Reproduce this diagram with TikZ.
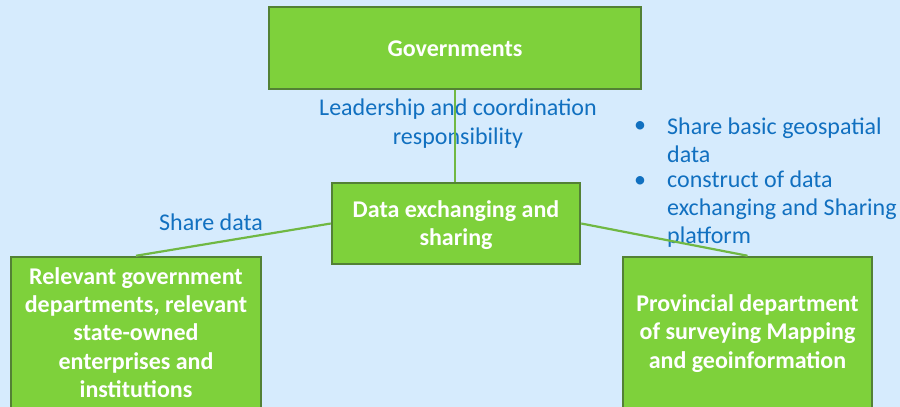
\documentclass[tikz,border=0pt]{standalone}
\usepackage{fontspec}
\setmainfont{Carlito}
\definecolor{bgcol}{HTML}{D6EBFD}
\definecolor{boxfill}{HTML}{7ED13B}
\definecolor{boxborder}{HTML}{538135}
\definecolor{linkcol}{HTML}{70B843}
\definecolor{lblcol}{HTML}{1170C0}
\tikzset{
  greenbox/.style={draw=boxborder, fill=boxfill, line width=2.5pt, inner sep=0pt, rectangle},
  boxtext/.style={text=white, font=\fontsize{24}{28.4}\selectfont\bfseries, align=center, inner sep=0pt},
  lbltext/.style={text=lblcol, font=\fontsize{24}{29}\selectfont, align=center, inner sep=0pt},
  bultext/.style={text=lblcol, font=\fontsize{24}{28}\selectfont, align=left, inner sep=0pt},
  conn/.style={draw=linkcol, line width=2.2pt}
}
\begin{document}
\begin{tikzpicture}[x=1pt,y=-1pt]
\fill[bgcol] (0,0) rectangle (900,407);
\useasboundingbox (0,0) rectangle (900,407);
% boxes
\node[greenbox, minimum width=372pt, minimum height=82pt] (gov) at (455,48) {};
\node[greenbox, minimum width=248pt, minimum height=81pt] (data) at (456,223.5) {};
\node[greenbox, minimum width=250pt, minimum height=172pt] (lb) at (136,343) {};
\node[greenbox, minimum width=249pt, minimum height=172pt] (rb) at (747.5,343) {};
% labels
\node[lbltext] (lead) at (458,124) {Leadership and coordination\\responsibility};
\node[lbltext] (share) at (211,222) {Share data};
\node[bultext, anchor=base] (b1) at (640,132) {\textbullet};
\node[bultext, anchor=base] (b2) at (640,187) {\textbullet};
\node[bultext, anchor=west] (t1) at (667,140) {Share basic geospatial\\data};
\node[bultext, anchor=west] (t2) at (667,209) {construct of data\\exchanging and Sharing\\platform};
% connectors
\draw[conn] (gov.south) -- (gov.south |- data.north);
\draw[conn] (data.west) -- (lb.north);
\draw[conn] (data.east) -- (rb.north);
% box texts
\node[boxtext] (govt) at (455,49) {Governments};
\node[boxtext] (datat) at (456,225) {Data exchanging and\\sharing};
\node[boxtext] (lbt) at (136,332.5) {Relevant government\\departments, relevant\\state-owned\\enterprises and\\institutions};
\node[boxtext] (rbt) at (747.5,333.5) {Provincial department\\of surveying Mapping\\and geoinformation};
\end{tikzpicture}
\end{document}
